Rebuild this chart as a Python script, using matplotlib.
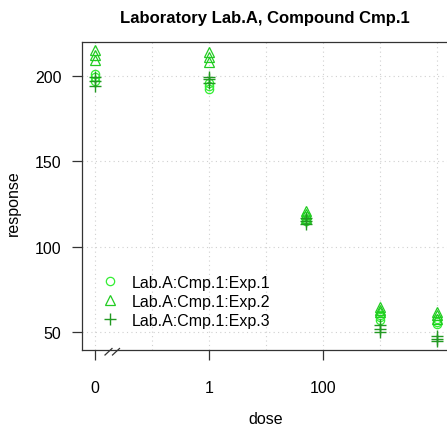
import matplotlib
matplotlib.use("Agg")
import matplotlib.pyplot as plt
from matplotlib.ticker import FixedLocator, NullFormatter, FixedFormatter

plt.rcParams['font.family'] = ['Liberation Sans', 'DejaVu Sans']

# Doses (0 is drawn at the break position 0.01 on the log axis)
doses = [0, 1, 50, 1000, 10000]
zero_pos = 0.01

exp1 = [[201, 199, 197], [196, 194, 192], [118, 116, 115], [60, 59, 57], [58, 56, 55]]
exp2 = [[215, 212, 209], [214, 211, 208], [121, 119, 117], [65, 63, 62], [62, 60, 58]]
exp3 = [[199, 197, 194], [199, 198, 196], [117, 115, 113], [54, 52, 50], [48, 46, 45]]

labels = ["Lab.A:Cmp.1:Exp.1", "Lab.A:Cmp.1:Exp.2", "Lab.A:Cmp.1:Exp.3"]
x_ticks = [0, 1, 100]
x_tick_labels = ["0", "1", "100"]
y_ticks = [50, 100, 150, 200]

W, H = 447, 427
fig = plt.figure(figsize=(W / 100, H / 100), dpi=100)
left, right, top, bottom = 81.7, 448.5, 42.7, 351.0
ax = fig.add_axes([left / W, (H - bottom) / H, (right - left) / W, (bottom - top) / H])

styles = [
    dict(marker='o', ms=6.0, mfc='none', mec='#33ee33', mew=0.9),
    dict(marker='^', ms=7.0, mfc='none', mec='#22cc22', mew=0.9),
    dict(marker='+', ms=9.0, mec='#229922', mew=1.0),
]

def xpos(d):
    return zero_pos if d == 0 else d

for series, lab, st in zip([exp1, exp2, exp3], labels, styles):
    xs, ys = [], []
    for d, vals in zip(doses, series):
        for v in vals:
            xs.append(xpos(d))
            ys.append(v)
    ax.plot(xs, ys, linestyle='none', label=lab, zorder=3, **st)

ax.set_xscale('log')
ax.set_xlim(10 ** -2.233, 10 ** 4.193)
ax.set_ylim(39.6, 219.9)

ax.xaxis.set_major_locator(FixedLocator([xpos(v) for v in x_ticks]))
ax.xaxis.set_major_formatter(FixedFormatter(x_tick_labels))
ax.xaxis.set_minor_locator(FixedLocator([0.1, 10, 1000, 10000]))
ax.xaxis.set_minor_formatter(NullFormatter())
ax.yaxis.set_major_locator(FixedLocator(y_ticks))

ax.tick_params(axis='x', which='major', length=7.5, width=0.9, color='#333333',
               pad=14, labelsize=11.5)
ax.tick_params(axis='x', which='minor', length=0)
ax.tick_params(axis='y', length=7.5, width=0.9, color='#333333', pad=7, labelsize=11.5)

ax.grid(True, which='both', axis='x', color='#d0d0d0', linestyle=(0, (1, 3)), lw=0.8, zorder=0)
ax.grid(True, which='major', axis='y', color='#d0d0d0', linestyle=(0, (1, 3)), lw=0.8, zorder=0)
ax.set_axisbelow(True)

for s in ax.spines.values():
    s.set_color('#333333')
    s.set_linewidth(0.9)

# axis break marks between 0 and 1
h = bottom - top
w = right - left
for x0 in (105.0, 112.5):
    ax.plot([(x0 - left) / w, (x0 + 7 - left) / w],
            [-(356 - bottom) / h, -(349.5 - bottom) / h],
            transform=ax.transAxes, color='#333333', lw=0.9, clip_on=False)

fig.text(265 / W, (H - 18) / H, "Laboratory Lab.A, Compound Cmp.1",
         ha='center', va='center', fontsize=12, fontweight='bold')
fig.text(266 / W, (H - 420) / H, "dose", ha='center', va='center', fontsize=11.5)
fig.text(13 / W, (H - 203) / H, "response", ha='center', va='center',
         rotation=90, fontsize=11.5)

leg = ax.legend(loc='upper left', bbox_to_anchor=((102 - left) / w, (bottom - 276) / h),
                frameon=False, borderpad=0, borderaxespad=0, handlelength=1.0,
                handletextpad=0.85, labelspacing=0.25, fontsize=11.5)

fig.savefig("out.png", dpi=100)
